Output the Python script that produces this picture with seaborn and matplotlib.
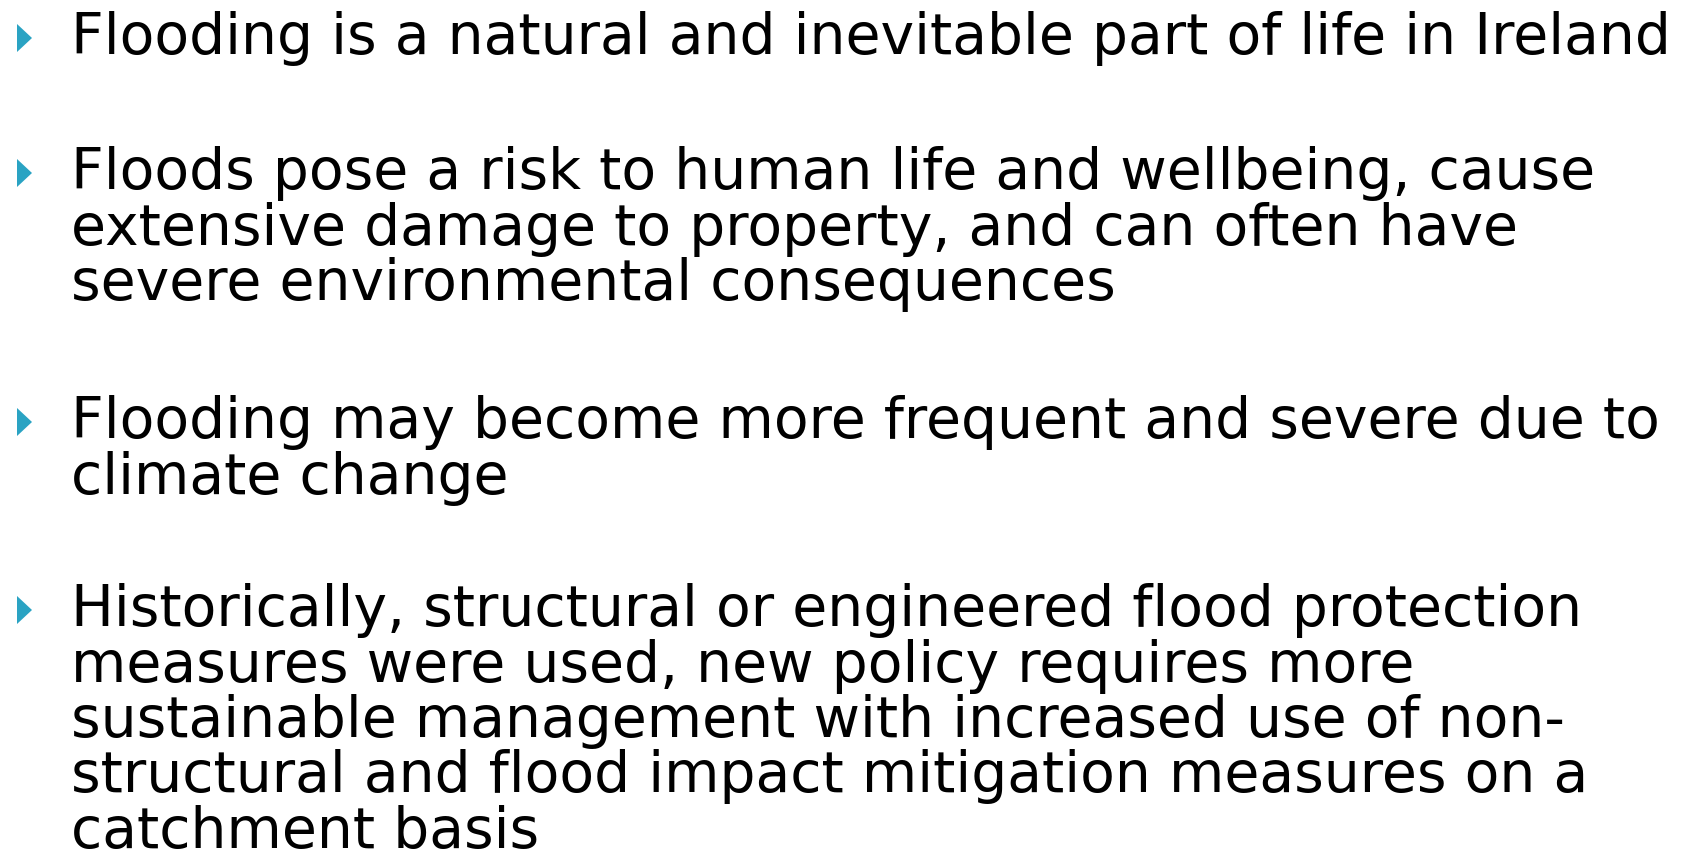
import matplotlib
matplotlib.use("Agg")
import matplotlib.pyplot as plt
import seaborn as sns
from matplotlib.patches import Polygon

# Slide content: each bullet is a list of wrapped lines
bullet_lines = [
    ["Flooding is a natural and inevitable part of life in Ireland"],
    ["Floods pose a risk to human life and wellbeing, cause",
     "extensive damage to property, and can often have",
     "severe environmental consequences"],
    ["Flooding may become more frequent and severe due to",
     "climate change"],
    ["Historically, structural or engineered flood protection",
     "measures were used, new policy requires more",
     "sustainable management with increased use of non-",
     "structural and flood impact mitigation measures on a",
     "catchment basis"],
]
# baseline (px from top) of the first line of each bullet
bullet_starts = [54, 189, 438, 626]

W, H = 1686, 853
LINE_STEP = 55.5
TEXT_X = 71
BULLET_COLOR = "#2AA3C3"

sns.set_theme(style="white")
plt.rcParams["font.family"] = ["DejaVu Sans"]

fig = plt.figure(figsize=(W / 100, H / 100), dpi=100)
ax = fig.add_axes([0, 0, 1, 1])
ax.set_xlim(0, W)
ax.set_ylim(H, 0)
ax.axis("off")

# fit font size so the first line spans the same width as the reference
probe = ax.text(0, 0, bullet_lines[0][0], fontsize=40)
fig.canvas.draw()
w = probe.get_window_extent().width
probe.remove()
font_size = 40 * (1669 - TEXT_X) / w

for lines, y0 in zip(bullet_lines, bullet_starts):
    # teal triangle bullet
    ax.add_patch(Polygon([(17, y0 - 29), (32, y0 - 15), (17, y0 - 1)],
                         closed=True, facecolor=BULLET_COLOR, edgecolor="none"))
    for i, line in enumerate(lines):
        ax.text(TEXT_X, y0 + i * LINE_STEP, line, fontsize=font_size,
                color="black", va="baseline", ha="left")

fig.savefig("out.png", dpi=100)
